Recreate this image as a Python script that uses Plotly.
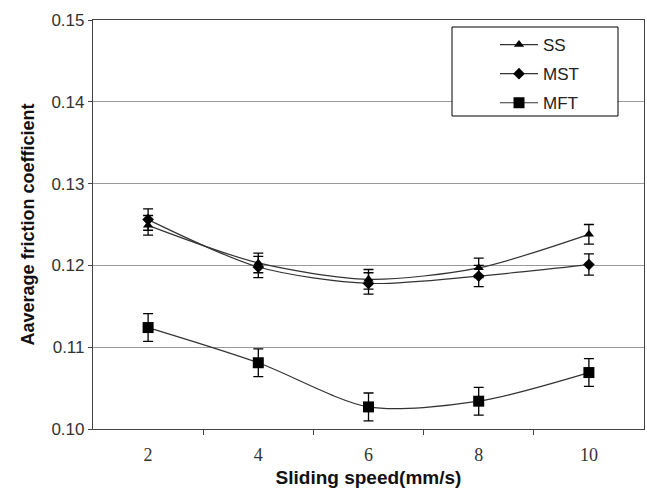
import plotly.graph_objects as go

speeds = [2, 4, 6, 8, 10]
ss = [0.1249, 0.1203, 0.1183, 0.1197, 0.1238]
ss_err = [0.0012, 0.0012, 0.0012, 0.0012, 0.0012]
mst = [0.1256, 0.1198, 0.1178, 0.1187, 0.1201]
mst_err = [0.0013, 0.0013, 0.0013, 0.0013, 0.0013]
mft = [0.1124, 0.1081, 0.1027, 0.1034, 0.1069]
mft_err = [0.0017, 0.0017, 0.0017, 0.0017, 0.0017]
names = ["SS", "MST", "MFT"]
symbols = ["triangle-up", "diamond", "square"]
sizes = [9, 9, 11]

L, R, T, B = 93, 3, 20, 59
W, H = 647, 488
pw, ph = W - L - R, H - T - B

fig = go.Figure()
for i, (y, e) in enumerate([(ss, ss_err), (mst, mst_err), (mft, mft_err)]):
    fig.add_trace(go.Scatter(
        x=speeds, y=y, name=names[i], mode="lines+markers",
        line=dict(color="#333333", width=1.2, shape="spline", smoothing=0.8),
        marker=dict(symbol=symbols[i], size=sizes[i], color="black"),
        error_y=dict(type="data", array=e, color="black", thickness=1.3, width=5),
        legendgroup=names[i],
    ))

def px_x(p):
    return (p - L) / pw

def px_y(p):
    return (H - B - p) / ph

fig.add_shape(type="rect", xref="paper", yref="paper",
              x0=px_x(452), x1=px_x(618), y0=px_y(116), y1=px_y(27),
              line=dict(color="black", width=1), fillcolor="white", layer="above")

fig.update_layout(
    width=W, height=H,
    margin=dict(l=L, r=R, t=T, b=B),
    paper_bgcolor="white", plot_bgcolor="white",
    showlegend=True,
    legend=dict(x=px_x(495), y=px_y(27), xanchor="left", yanchor="top",
                bgcolor="rgba(0,0,0,0)", borderwidth=0,
                font=dict(family="Liberation Sans, Arial", size=17, color="#222"),
                tracegroupgap=4, itemwidth=38),
    xaxis=dict(range=[1, 11], tickvals=speeds, ticktext=[str(s) for s in speeds],
               showgrid=False, zeroline=False, ticks="outside", ticklen=9,
               tickcolor="rgba(0,0,0,0)",
               showline=True, linecolor="#444", linewidth=1.2, mirror=True,
               minor=dict(tickvals=[3, 5, 7, 9], ticks="outside", ticklen=5, tickcolor="#444"),
               tickfont=dict(family="Liberation Serif, Times New Roman", size=18, color="#333"),
               title=dict(text="<b>Sliding speed(mm/s)</b>", standoff=6,
                          font=dict(family="Liberation Sans, Arial", size=19, color="#111"))),
    yaxis=dict(range=[0.10, 0.15], tickvals=[0.10, 0.11, 0.12, 0.13, 0.14, 0.15],
               ticktext=["0.10", "0.11", "0.12", "0.13", "0.14", "0.15"],
               showgrid=True, gridcolor="#9a9a9a", gridwidth=1, zeroline=False,
               ticks="outside", ticklen=4, tickcolor="#444",
               showline=True, linecolor="#444", linewidth=1.2, mirror=True,
               tickfont=dict(family="Liberation Sans, Arial", size=17, color="#333"),
               title=dict(text="<b>Aaverage friction coefficient</b>", standoff=12,
                          font=dict(family="Liberation Sans, Arial", size=18, color="#111"))),
)

fig.write_html("out.html")
